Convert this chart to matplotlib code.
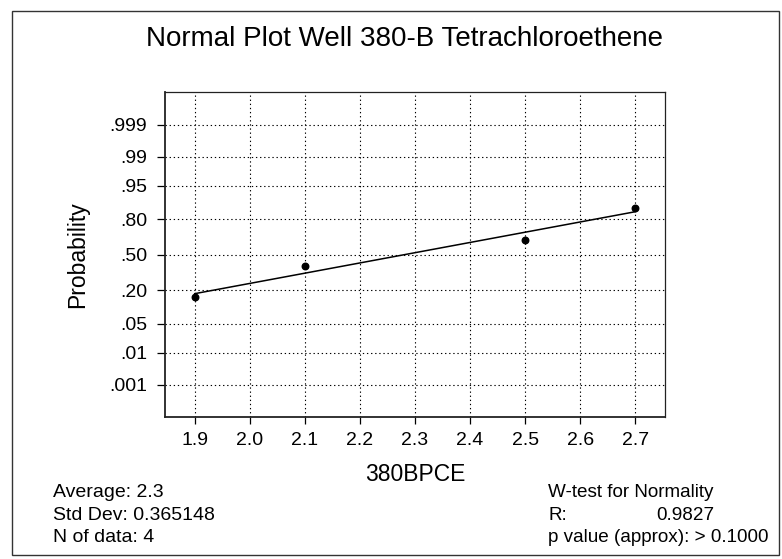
import numpy as np
import matplotlib
matplotlib.use("Agg")
import matplotlib.pyplot as plt
from matplotlib.patches import Rectangle
from statistics import NormalDist

plt.rcParams["font.family"] = ["Liberation Sans", "DejaVu Sans"]

# PCE results for well 380-B and their normal plotting positions
pce_values = [1.9, 2.1, 2.5, 2.7]
plot_probs = [0.155, 0.397, 0.639, 0.867]

prob_ticks = [0.001, 0.01, 0.05, 0.20, 0.50, 0.80, 0.95, 0.99, 0.999]
prob_labels = [".001", ".01", ".05", ".20", ".50", ".80", ".95", ".99", ".999"]
x_ticks = [1.9, 2.0, 2.1, 2.2, 2.3, 2.4, 2.5, 2.6, 2.7]

stats_left = ["Average: 2.3", "Std Dev: 0.365148", "N of data: 4"]
w_test_title = "W-test for Normality"
w_test_r = "0.9827"
w_test_p = "p value (approx): > 0.1000"

_nd = NormalDist()
_ppf = np.vectorize(lambda p: _nd.inv_cdf(min(max(p, 1e-12), 1 - 1e-12)), otypes=[float])
_cdf = np.vectorize(_nd.cdf, otypes=[float])


def probit(p):
    return _ppf(np.asarray(p, dtype=float))


def inv_probit(z):
    return _cdf(np.asarray(z, dtype=float))


W, H = 782, 559
fig = plt.figure(figsize=(W / 100, H / 100), dpi=100)
ax = fig.add_axes([165 / W, 1 - 417 / H, 500 / W, 325 / H])

ax.set_yscale("function", functions=(probit, inv_probit))

# least-squares line through the points in probit space
z_pts = probit(plot_probs)
slope, icpt = np.polyfit(pce_values, z_pts, 1)
x_line = np.array([pce_values[0], pce_values[-1]])
ax.plot(x_line, inv_probit(icpt + slope * x_line), color="black", lw=1.1, zorder=3)
ax.scatter(pce_values, plot_probs, s=22, color="black", zorder=4)

ax.set_xlim(1.846, 2.754)
ax.set_ylim(inv_probit(-3.86), inv_probit(3.87))
ax.set_yticks(prob_ticks)
ax.set_yticklabels(prob_labels)
ax.yaxis.set_minor_locator(matplotlib.ticker.NullLocator())
ax.set_xticks(x_ticks)
ax.set_xticklabels([f"{v:.1f}" for v in x_ticks])

ax.grid(True, linestyle=(0, (1.2, 2.5)), color="black", lw=0.8)
ax.tick_params(axis="y", length=6, width=0.9, pad=7, labelsize=14)
ax.tick_params(axis="x", length=5, width=0.9, pad=6, labelsize=14)
for side, sp in ax.spines.items():
    sp.set_color("#222222")
    sp.set_linewidth(1.3 if side in ("left", "bottom") else 0.9)

ax.set_xlabel("380BPCE", fontsize=16.5, labelpad=10)
ax.set_ylabel("Probability", fontsize=16.5, labelpad=14)

fig.text(405 / W, 1 - 46 / H, "Normal Plot Well 380-B Tetrachloroethene",
         ha="center", va="baseline", fontsize=20)

for i, line in enumerate(stats_left):
    fig.text(53 / W, 1 - (497 + 22.5 * i) / H, line, ha="left", va="baseline", fontsize=14)

fig.text(548 / W, 1 - 497 / H, w_test_title, ha="left", va="baseline", fontsize=13.6)
fig.text(548 / W, 1 - 519.5 / H, "R:", ha="left", va="baseline", fontsize=13.6)
fig.text(714 / W, 1 - 519.5 / H, w_test_r, ha="right", va="baseline", fontsize=13.6)
fig.text(548 / W, 1 - 542 / H, w_test_p, ha="left", va="baseline", fontsize=13.6)

# outer frame around the whole report
fig.patches.append(Rectangle((12 / W, 1 - 555 / H), 767 / W, 544 / H,
                             transform=fig.transFigure, fill=False,
                             edgecolor="#333333", lw=1.0))

fig.savefig("out.png", dpi=100)
